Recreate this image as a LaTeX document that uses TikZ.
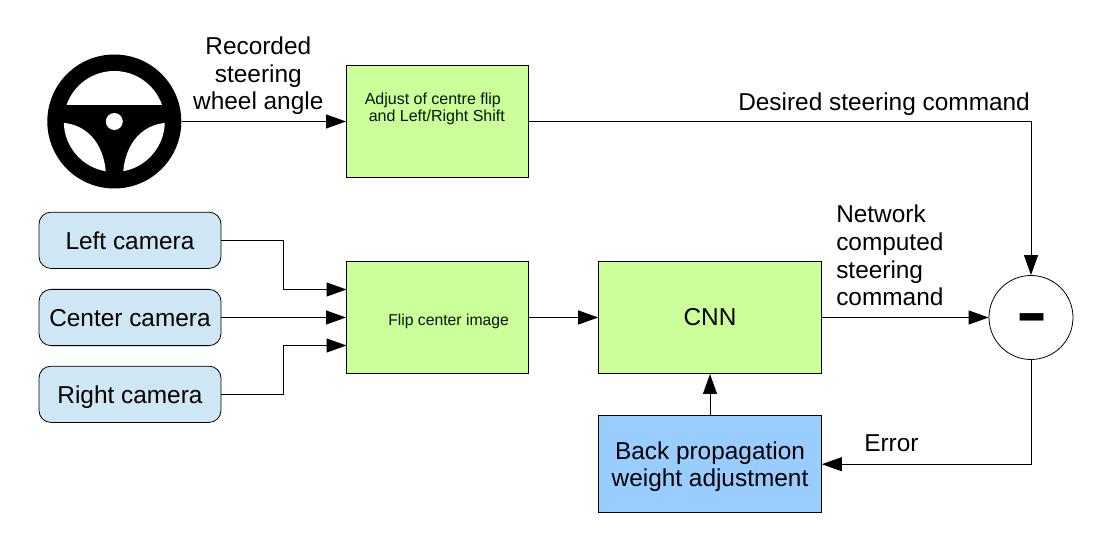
\documentclass[tikz,border=0pt]{standalone}
\usepackage{fontspec}
\setmainfont{Liberation Sans}
\usetikzlibrary{arrows.meta}
\definecolor{boxgreen}{HTML}{CCFF99}
\definecolor{boxblue}{HTML}{99CCFF}
\definecolor{camblue}{HTML}{CFE7F5}
\tikzset{
  x=0.75pt,y=-0.75pt,
  big/.style={font=\fontsize{18.3}{20.8}\selectfont,inner sep=0pt,align=#1},
  big/.default=center,
  small/.style={font=\fontsize{12}{12.9}\selectfont,inner sep=0pt,text=black!90!green,align=left},
  block/.style={draw=black,line width=0.75pt,fill=#1,minimum width=136.5pt,minimum height=84pt,inner sep=0pt,font=\fontsize{18.3}{20.4}\selectfont,align=center},
  camera/.style={draw=black,line width=0.6pt,fill=camblue,rounded corners=9pt,minimum width=136.5pt,minimum height=42.2pt,inner sep=0pt,font=\fontsize{18.3}{20.6}\selectfont,text height=13.7pt,text depth=0pt},
  wire/.style={draw=black,line width=0.75pt,-{Triangle[length=15pt,width=10.5pt]}},
}
\begin{document}
\begin{tikzpicture}
\useasboundingbox (0,0) rectangle (1093,541);
% steering wheel
\node[circle,fill=black,draw=none,minimum size=100.5pt,inner sep=0pt] (wheel) at (114.3,121.5) {};
\begin{scope}
  \clip (114.3,121.5) circle[radius=50.5];
  \fill[white] (50,50) rectangle (180,105.3);
  \fill[white] (60,122.5) .. controls (92,124) and (105,150) .. (106,175) -- (50,190) -- (50,122.5) -- cycle;
  \fill[white] (169,122.5) .. controls (137,124) and (124,150) .. (123,175) -- (180,190) -- (180,122.5) -- cycle;
\end{scope}
\fill[white] (114.3,121.5) circle[radius=8.5];
% blocks
\node[block=boxgreen] (adjust) at (437.5,121.5) {};
\node[block=boxgreen] (flip) at (437.5,317.5) {};
\node[block=boxgreen,minimum width=167pt] (cnn) at (710,317.5) {CNN};
\node[block=boxblue,minimum width=167pt,minimum height=72.7pt] (back) at (710,464.2) {\rule{0pt}{17pt}Back propagation\\weight adjustment};
\node[camera] (left) at (130,240.3) {Left camera};
\node[camera] (center) at (130,317.5) {Center camera};
\node[camera] (right) at (130,394.3) {Right camera};
\node[circle,draw=black,line width=0.6pt,fill=white,minimum size=63pt,inner sep=0pt] (minus) at (1031,317.5) {};
\node[inner sep=0pt,font=\bfseries\fontsize{36}{36}\selectfont] (minussign) at (1032,323.5) {\scalebox{1.95}[1.3]{-}};
% small block labels
\node[small,anchor=north west] (adjusttext) at (364.5,92.5) {Adjust of centre flip\\\hspace*{3pt}and Left/Right Shift};
\node[small,font=\fontsize{11.8}{13}\selectfont,anchor=west] (fliptext) at (388,321.5) {Flip center image};
% free labels
\node[big] (recorded) at (258.3,75.8) {Recorded\\steering\\wheel angle};
\node[big,anchor=base west] (desired) at (738,110.5) {Desired steering command};
\node[big=left,anchor=west] (network) at (836,255.5) {Network\\computed\\steering\\command};
\node[big,anchor=base west] (error) at (864,452) {Error};
% connectors
\draw[wire] (wheel.east) -- (adjust.west);
\draw[wire] (adjust.east) -| (minus.north);
\coordinate (la) at (346.5,289.5);
\coordinate (ra) at (346.5,345.5);
\coordinate (lb) at (283.7,240.3);
\coordinate (rb) at (283.7,394.3);
\draw[wire] (left.east) -- (lb) |- (la);
\draw[wire] (center.east) -- (flip.west);
\draw[wire] (right.east) -- (rb) |- (ra);
\draw[wire] (flip.east) -- (cnn.west);
\draw[wire] (cnn.east) -- (minus.west);
\draw[wire] (minus.south) |- (back.east);
\draw[wire] (back.north) -- (cnn.south);
\end{tikzpicture}
\end{document}
